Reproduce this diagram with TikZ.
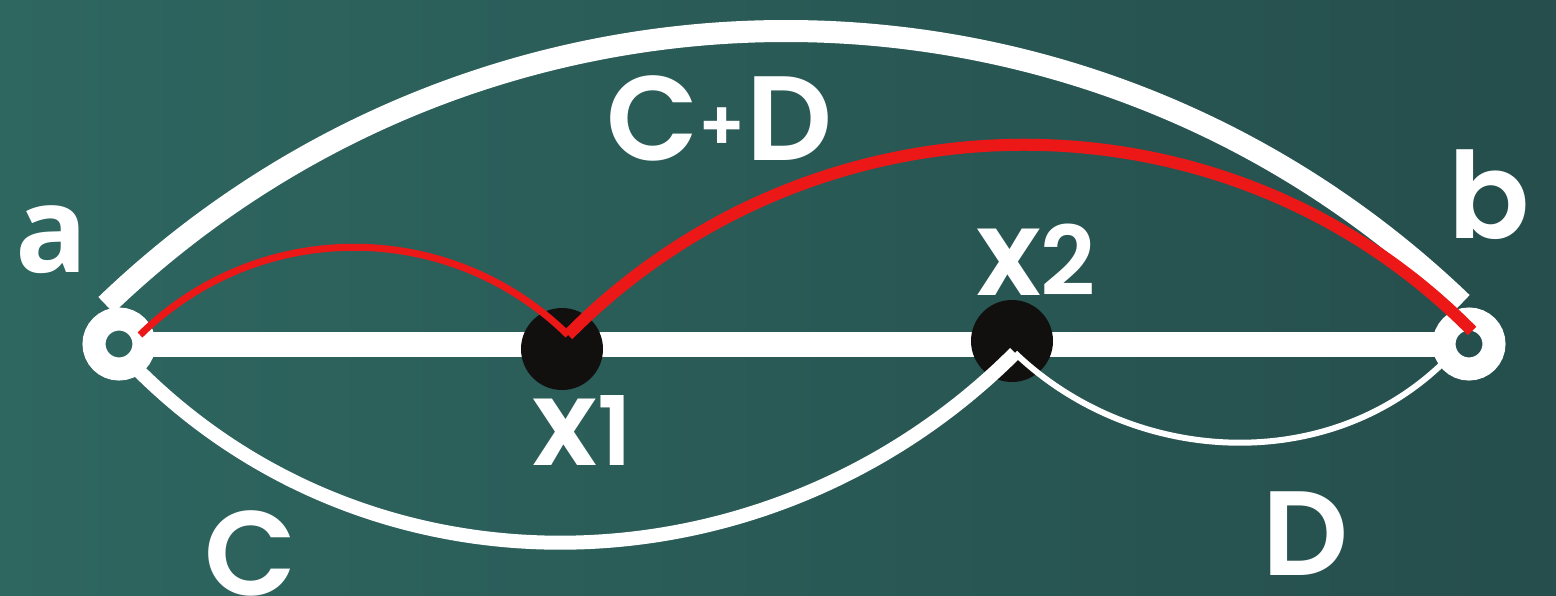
\documentclass[tikz,border=0pt]{standalone}
\usepackage{fontspec}
\setmainfont{Poppins}
\newfontfamily\labfont{Poppins SemiBold}
\newfontfamily\afont{Open Sans}
\definecolor{boardL}{RGB}{46,102,96}
\definecolor{boardR}{RGB}{37,78,76}
\definecolor{dotblack}{RGB}{17,16,15}
\definecolor{chalkred}{RGB}{236,24,24}
\newcommand{\dig}[1]{{\fontsize{96}{96}\selectfont #1}}
\newcommand{\smallplus}{\raisebox{10pt}{\fontsize{70}{70}\selectfont +}}
\tikzset{
  ring/.style={circle, draw=white, line width=23pt, minimum size=50pt, inner sep=0pt},
  blackdot/.style={circle, fill=dotblack, minimum size=82pt, inner sep=0pt},
  lab/.style={text=white, inner sep=0pt, anchor=base, text depth=0pt, font=\labfont\fontsize{120}{120}\selectfont},
  bigarc/.style={draw=white, line width=22pt, line cap=butt},
  midarc/.style={draw=white, line width=14pt, line cap=butt},
  thinarc/.style={draw=white, line width=6pt, line cap=butt},
  redthick/.style={draw=chalkred, line width=12pt, line cap=butt, line join=miter},
  redthin/.style={draw=chalkred, line width=7pt, line cap=butt, line join=miter}
}
\begin{document}
\begin{tikzpicture}[x=1pt,y=-1pt]
\useasboundingbox (0,0) rectangle (1556,595);
\shade[left color=boardL, right color=boardR] (0,0) rectangle (1556,595);

% endpoint coordinates
\coordinate (aC) at (119,344);
\coordinate (bC) at (1469,344);
\coordinate (aR) at (141,344);
\coordinate (bL) at (1447,344);
\coordinate (aTop) at (106,305);
\coordinate (bTop) at (1462,303);
\coordinate (aRed) at (140,335);
\coordinate (x1apex) at (568,335);
\coordinate (bRed) at (1472,331);
\coordinate (aLow) at (137,369);
\coordinate (x2apex) at (1015,353);
\coordinate (bLow) at (1442,364);

% main horizontal line
\draw[white, line width=25pt] (aR) -- (bL);
% big arc C+D
\path[bigarc] (aTop) .. controls +(379,-364) and +(-379,-364) .. (bTop);

% black points
\node[blackdot] (x1) at (562,349) {};
\node[blackdot] (x2) at (1012,341) {};

% arcs C and D
\path[midarc] (aLow) .. controls +(242,242) and +(-242,242) .. (x2apex);
\path[thinarc] (x2apex) .. controls +(117,112) and +(-117,112) .. (bLow);

% end rings
\node[ring] (a) at (aC) {};
\node[ring] (b) at (bC) {};

% red path
\path[redthin] (aRed) .. controls +(119,-117) and +(-119,-117) .. (x1apex);
\path[redthick] (x1apex) .. controls +(248,-251) and +(-248,-251) .. (bRed);

% labels
\node[lab, font=\afont\bfseries\fontsize{120}{120}\selectfont] (la) at (51.5,272) {a};
\node[lab] (lb) at (1489.5,238) {b};
\node[lab] (lcd) at (719.5,160) {C\smallplus D};
\node[lab] (lx1) at (582.5,465) {x\dig{1}};
\node[lab] (lx2) at (1036,295) {x\dig{2}};
\node[lab] (lc) at (251,595) {C};
\node[lab] (ld) at (1305.5,575) {D};
\end{tikzpicture}
\end{document}
